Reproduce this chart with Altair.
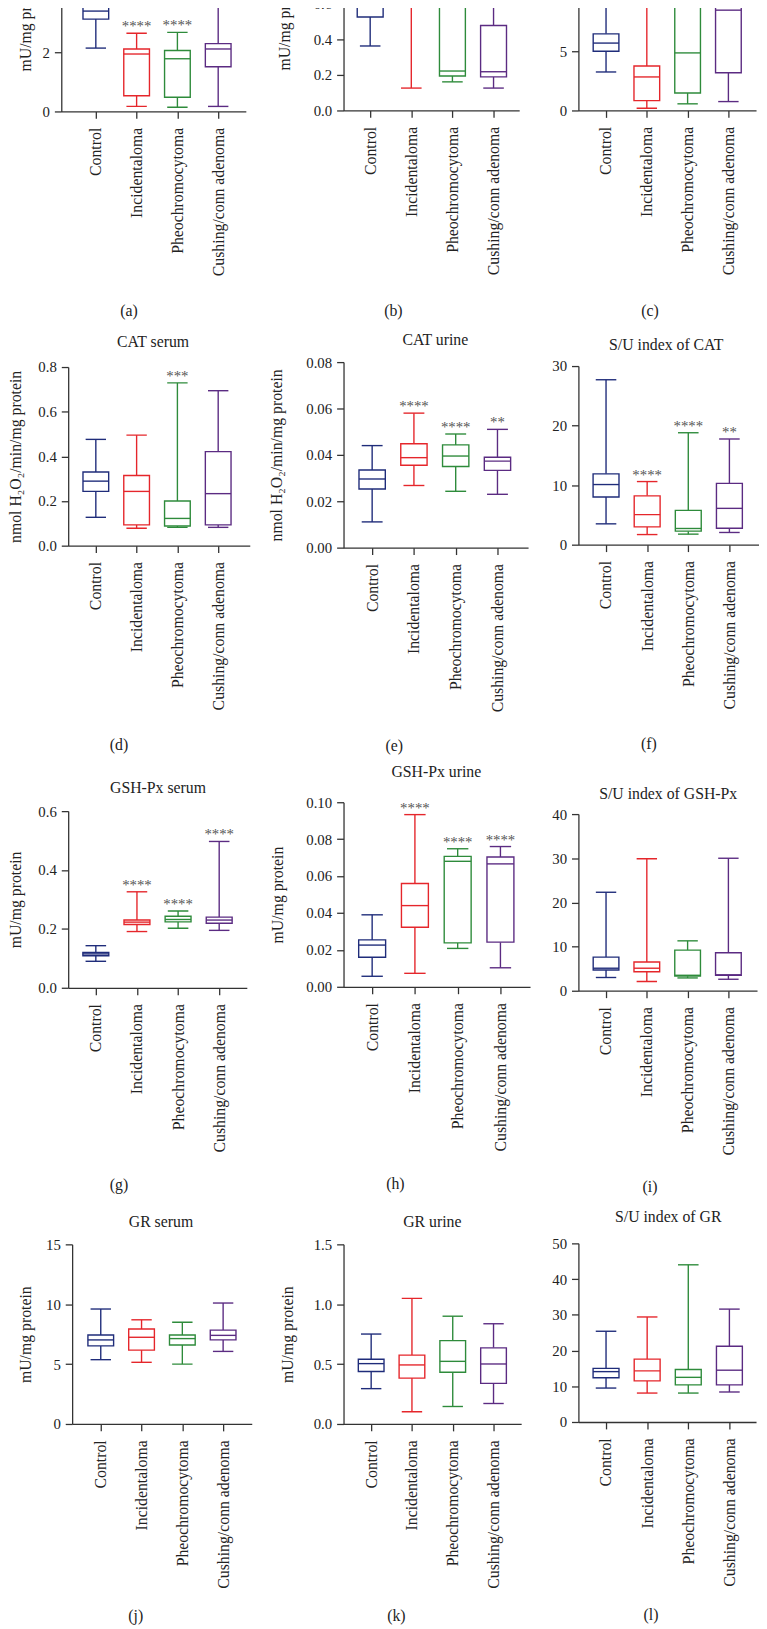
import altair as alt
import pandas as pd

GROUPS = ["Control", "Incidentaloma", "Pheochromocytoma", "Cushing/conn adenoma"]
COLORS = ["#1f2c7a", "#e5262b", "#2e8b3b", "#5b2b82"]
FONT = "Liberation Serif"

# (a) SOD serum
A_LO = [2.14, 0.17, 0.14, 0.17]
A_Q1 = [3.12, 0.53, 0.48, 1.51]
A_MED = [3.39, 1.94, 1.78, 2.11]
A_Q3 = [3.65, 2.11, 2.06, 2.29]
A_HI = [4.6, 2.64, 2.67, 4.4]
A_STARS = ["", "****", "****", ""]
# (b) SOD urine
B_LO = [0.363, 0.126, 0.161, 0.126]
B_Q1 = [0.526, 0.583, 0.194, 0.189]
B_MED = [0.585, 0.595, 0.222, 0.218]
B_Q3 = [0.63, 0.78, 0.61, 0.478]
B_HI = [0.78, 0.95, 0.70, 0.82]
B_STARS = ["", "", "", ""]
# (c) S/U index of SOD
C_LO = [3.25, 0.19, 0.56, 0.75]
C_Q1 = [5.0, 0.83, 1.47, 3.19]
C_MED = [5.69, 2.83, 4.86, 8.47]
C_Q3 = [6.47, 3.75, 8.7, 10.8]
C_HI = [10.5, 12.0, 11.5, 13.5]
C_STARS = ["", "", "", ""]
# (d) CAT serum
D_LO = [0.127, 0.078, 0.082, 0.082]
D_Q1 = [0.243, 0.093, 0.088, 0.093]
D_MED = [0.289, 0.243, 0.122, 0.233]
D_Q3 = [0.33, 0.314, 0.200, 0.421]
D_HI = [0.476, 0.495, 0.729, 0.694]
D_STARS = ["", "", "***", ""]
# (e) CAT urine
E_LO = [0.0111, 0.0268, 0.0243, 0.023]
E_Q1 = [0.0253, 0.0355, 0.035, 0.0333]
E_MED = [0.0296, 0.0388, 0.0395, 0.0373]
E_Q3 = [0.0335, 0.0448, 0.0443, 0.039]
E_HI = [0.044, 0.058, 0.049, 0.051]
E_STARS = ["", "****", "****", "**"]
# (f) S/U index of CAT
F_LO = [3.5, 1.7, 1.77, 2.05]
F_Q1 = [8.0, 3.0, 2.27, 2.77]
F_MED = [10.1, 5.05, 2.72, 6.1]
F_Q3 = [11.9, 8.2, 5.77, 10.3]
F_HI = [27.7, 10.6, 18.8, 17.75]
F_STARS = ["", "****", "****", "**"]
# (g) GSH-Px serum
G_LO = [0.090, 0.191, 0.202, 0.195]
G_Q1 = [0.109, 0.215, 0.224, 0.219]
G_MED = [0.115, 0.223, 0.232, 0.230]
G_Q3 = [0.120, 0.230, 0.243, 0.240]
G_HI = [0.143, 0.326, 0.261, 0.497]
G_STARS = ["", "****", "****", "****"]
# (h) GSH-Px urine
H_LO = [0.0057, 0.0073, 0.0208, 0.0103]
H_Q1 = [0.016, 0.0323, 0.0238, 0.0242]
H_MED = [0.0226, 0.044, 0.068, 0.0666]
H_Q3 = [0.0254, 0.056, 0.0707, 0.0703]
H_HI = [0.039, 0.0933, 0.0748, 0.076]
H_STARS = ["", "****", "****", "****"]
# (i) S/U index of GSH-Px
I_LO = [3.0, 2.1, 2.9, 2.6]
I_Q1 = [4.7, 4.3, 3.3, 3.5]
I_MED = [5.1, 5.1, 3.5, 3.6]
I_Q3 = [7.6, 6.5, 9.2, 8.6]
I_HI = [22.3, 29.9, 11.3, 30.0]
I_STARS = ["", "", "", ""]
# (j) GR serum
J_LO = [5.37, 5.15, 5.0, 6.06]
J_Q1 = [6.52, 6.17, 6.6, 7.02]
J_MED = [7.02, 7.24, 7.13, 7.4]
J_Q3 = [7.43, 7.93, 7.43, 7.84]
J_HI = [9.6, 8.7, 8.5, 10.1]
J_STARS = ["", "", "", ""]
# (k) GR urine
K_LO = [0.295, 0.102, 0.146, 0.171]
K_Q1 = [0.438, 0.383, 0.432, 0.339]
K_MED = [0.504, 0.493, 0.523, 0.501]
K_Q3 = [0.54, 0.575, 0.696, 0.636]
K_HI = [0.751, 1.049, 0.9, 0.837]
K_STARS = ["", "", "", ""]
# (l) S/U index of GR
L_LO = [9.5, 8.1, 8.1, 8.4]
L_Q1 = [12.4, 11.5, 10.4, 10.4]
L_MED = [14.1, 14.3, 12.5, 14.5]
L_Q3 = [15.0, 17.6, 14.7, 21.2]
L_HI = [25.4, 29.4, 44.0, 31.6]
L_STARS = ["", "", "", ""]

TITLES = ["", "", "", "CAT serum", "CAT urine", "S/U index of CAT",
          "GSH-Px serum", "GSH-Px urine", "S/U index of GSH-Px",
          "GR serum", "GR urine", "S/U index of GR"]
YTITLE_PROT = "mU/mg protein"
YTITLE_CAT = "nmol H\u2082O\u2082/min/mg protein"
YTITLES = [YTITLE_PROT, YTITLE_PROT, "", YTITLE_CAT, YTITLE_CAT, "",
           YTITLE_PROT, YTITLE_PROT, "", YTITLE_PROT, YTITLE_PROT, ""]
LETTERS = ["(a)", "(b)", "(c)", "(d)", "(e)", "(f)", "(g)", "(h)", "(i)", "(j)", "(k)", "(l)"]
YMAX = [6, 1.0, 15, 0.8, 0.08, 30, 0.6, 0.10, 40, 15, 1.5, 50]
YTICKS = [[0, 2, 4, 6], [0, 0.2, 0.4, 0.6, 0.8, 1.0], [0, 5, 10, 15],
          [0, 0.2, 0.4, 0.6, 0.8], [0, 0.02, 0.04, 0.06, 0.08], [0, 10, 20, 30],
          [0, 0.2, 0.4, 0.6], [0, 0.02, 0.04, 0.06, 0.08, 0.10], [0, 10, 20, 30, 40],
          [0, 5, 10, 15], [0, 0.5, 1.0, 1.5], [0, 10, 20, 30, 40, 50]]
YFMT = [".0f", ".1f", ".0f", ".1f", ".2f", ".0f", ".1f", ".2f", ".0f", ".0f", ".1f", ".0f"]

STATS = [
    (A_LO, A_Q1, A_MED, A_Q3, A_HI, A_STARS),
    (B_LO, B_Q1, B_MED, B_Q3, B_HI, B_STARS),
    (C_LO, C_Q1, C_MED, C_Q3, C_HI, C_STARS),
    (D_LO, D_Q1, D_MED, D_Q3, D_HI, D_STARS),
    (E_LO, E_Q1, E_MED, E_Q3, E_HI, E_STARS),
    (F_LO, F_Q1, F_MED, F_Q3, F_HI, F_STARS),
    (G_LO, G_Q1, G_MED, G_Q3, G_HI, G_STARS),
    (H_LO, H_Q1, H_MED, H_Q3, H_HI, H_STARS),
    (I_LO, I_Q1, I_MED, I_Q3, I_HI, I_STARS),
    (J_LO, J_Q1, J_MED, J_Q3, J_HI, J_STARS),
    (K_LO, K_Q1, K_MED, K_Q3, K_HI, K_STARS),
    (L_LO, L_Q1, L_MED, L_Q3, L_HI, L_STARS),
]

# layout: plot left (L), plot width (W), first category offset (f), step (s),
# cell left/width, cell height (H), plot height (h), title centre x / gap,
# letter x / offset below axis, y-title centre x
LAYOUT = [
    dict(L=62, W=187, f=35, s=41.33, cl=0, cw=340, H=220, h=180, tx=0, tg=21, lx=130, ly=202, yx=26),
    dict(L=340, W=178, f=27, s=41.67, cl=340, cw=228, H=219, h=180, tx=0, tg=21, lx=390, ly=203, yx=280),
    dict(L=568, W=180, f=28, s=41.33, cl=568, cw=180, H=219, h=180, tx=0, tg=21, lx=640, ly=203, yx=0),
    dict(L=69, W=184, f=28, s=41.33, cl=0, cw=346, H=440, h=181, tx=155, tg=9, lx=120, ly=202, yx=16),
    dict(L=346, W=187, f=29, s=42.33, cl=346, cw=238, H=442, h=188, tx=439, tg=6, lx=397, ly=201, yx=278),
    dict(L=584, W=183, f=28, s=41.67, cl=584, cw=183, H=439, h=181, tx=673, tg=5, lx=655, ly=202, yx=0),
    dict(L=69, W=181, f=28, s=41.67, cl=0, cw=348, H=446, h=179, tx=160, tg=7, lx=120, ly=199, yx=16),
    dict(L=348, W=189, f=29, s=43.33, cl=348, cw=238, H=445, h=187, tx=442, tg=15, lx=400, ly=199, yx=281),
    dict(L=586, W=181, f=28, s=41.33, cl=586, cw=181, H=449, h=179, tx=677, tg=4, lx=658, ly=198, yx=0),
    dict(L=73, W=182, f=29, s=41.33, cl=0, cw=340, H=439, h=182, tx=163, tg=7, lx=137, ly=194, yx=26),
    dict(L=340, W=180, f=28, s=41.33, cl=340, cw=230, H=439, h=182, tx=430, tg=7, lx=393, ly=194, yx=283),
    dict(L=570, W=180, f=28, s=41.67, cl=570, cw=180, H=437, h=181, tx=661, tg=11, lx=643, ly=195, yx=0),
]


def make_panel(i):
    lo, q1, med, q3, hi, stars = STATS[i]
    lay = LAYOUT[i]
    df = pd.DataFrame({"group": GROUPS, "lo": lo, "q1": q1, "med": med,
                       "q3": q3, "hi": hi, "stars": stars})
    L, W, f, s = lay["L"], lay["W"], lay["f"], lay["s"]
    cl, cw, H, h = lay["cl"], lay["cw"], lay["H"], lay["h"]
    x0 = L - cl
    pad = (W / s - 3) / 2
    aln = f / (W - 3 * s)
    box = 0.63 * s
    cap = 0.5 * s

    xscale = alt.Scale(type="point", domain=GROUPS, range=[x0, x0 + W],
                       padding=pad, align=aln)
    xaxis = alt.Axis(title=LETTERS[i], titleX=lay["lx"] - cl, titleY=lay["ly"],
                     titleBaseline="middle", titleAlign="center", titleAngle=0,
                     titleFontSize=16, titleFontWeight="normal", titleColor="#222",
                     labelAngle=-90, labelFontSize=16, labelPadding=9, labelLimit=400,
                     labelColor="#222", tickSize=7, grid=False)
    X = alt.X("group:N", scale=xscale, axis=xaxis, sort=GROUPS)

    yscale = alt.Scale(domain=[0, YMAX[i]], range=[H, H - h], nice=False)
    ykw = dict(values=YTICKS[i], format=YFMT[i], offset=-x0, grid=False,
               tickSize=7, labelPadding=5, labelFontSize=15, labelColor="#222")
    if YTITLES[i]:
        ykw.update(title=YTITLES[i], titleX=lay["yx"] - L, titleY=H - h / 2,
                   titleBaseline="middle", titleAlign="center", titleAngle=-90,
                   titleFontSize=16, titleFontWeight="normal", titleColor="#222")
    else:
        ykw.update(title=None)

    def Y(field):
        return alt.Y(f"{field}:Q", scale=yscale, axis=alt.Axis(**ykw))

    cscale = alt.Scale(domain=GROUPS, range=COLORS)
    color = alt.Color("group:N", scale=cscale, legend=None)
    base = alt.Chart(df)
    sw = 1.4
    lower = base.mark_rule(strokeWidth=sw).encode(x=X, y=Y("lo"), y2=alt.Y2("q1"), color=color)
    upper = base.mark_rule(strokeWidth=sw).encode(x=X, y=Y("q3"), y2=alt.Y2("hi"), color=color)
    capl = base.mark_tick(size=cap, thickness=sw, opacity=1).encode(x=X, y=Y("lo"), color=color)
    caph = base.mark_tick(size=cap, thickness=sw, opacity=1).encode(x=X, y=Y("hi"), color=color)
    boxes = base.mark_bar(size=box, fill="white", strokeWidth=sw, opacity=1).encode(
        x=X, y=Y("q1"), y2=alt.Y2("q3"),
        stroke=alt.Stroke("group:N", scale=cscale, legend=None))
    medians = base.mark_tick(size=box, thickness=sw, opacity=1).encode(x=X, y=Y("med"), color=color)
    text = base.mark_text(baseline="alphabetic", dy=-2, fontSize=15, color="#555",
                          font=FONT).encode(x=X, y=Y("hi"), text="stars:N")

    ch = alt.layer(lower, upper, capl, caph, boxes, medians, text).properties(width=cw, height=H)
    if TITLES[i]:
        ch = ch.properties(title=alt.TitleParams(
            text=TITLES[i], anchor="start", align="center", frame="group", offset=0,
            dx=lay["tx"] - cl, dy=(H - h) - lay["tg"], baseline="middle",
            fontSize=16, fontWeight="normal", color="#222", font=FONT))
    return ch


panels = [make_panel(i) for i in range(12)]

chart = alt.concat(*panels, columns=3, spacing=0, bounds="flush", align="none").properties(
    padding={"left": -8, "top": -126, "right": 0, "bottom": 0}
).configure(font=FONT).configure_view(strokeWidth=0).configure_axis(
    domainColor="#333", tickColor="#333", domainWidth=1.3, tickWidth=1.3,
    labelFont=FONT, titleFont=FONT
)

chart.save("out.html", embed_options={"renderer": "svg", "actions": False})
